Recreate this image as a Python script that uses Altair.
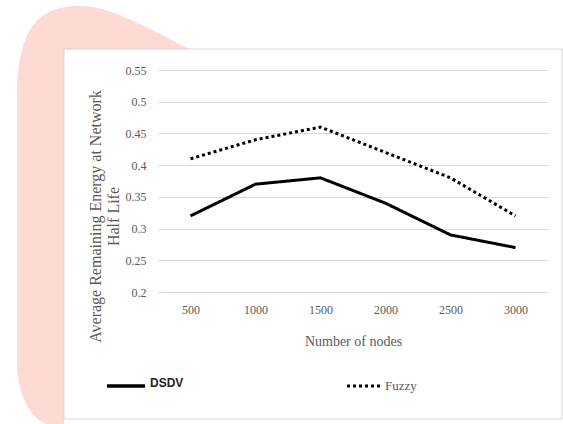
import altair as alt
import pandas as pd

# ---- data ----
nodes = ["500", "1000", "1500", "2000", "2500", "3000"]
dsdv = [0.32, 0.37, 0.38, 0.34, 0.29, 0.27]
fuzzy = [0.41, 0.44, 0.46, 0.42, 0.38, 0.32]
series_names = ["DSDV", "Fuzzy"]
y_ticks = [0.2, 0.25, 0.3, 0.35, 0.4, 0.45, 0.5, 0.55]
x_title = "Number of nodes"
y_title = ["Average Remaining Energy at Network", "Half Life"]

rows = []
for n, a, b in zip(nodes, dsdv, fuzzy):
    rows.append({"nodes": n, "series": series_names[0], "value": a})
    rows.append({"nodes": n, "series": series_names[1], "value": b})
df = pd.DataFrame(rows)

# layout (pixels)
PL, PT, W, H = 158, 70, 390, 222
SERIF = "Liberation Serif"
GRAY = "#595959"

# ---- decorative pink watermark (custom symbol path) ----
CX, CY, HS = 104.0, 214.0, 214.0
def P(x, y):
    return f"{(x - CX) / HS:.4f},{(y - CY) / HS:.4f}"
pink_path = ("M" + P(17, 100) + " C" + P(17, 25) + " " + P(40, 6) + " " + P(80, 6)
             + " C" + P(112, 6) + " " + P(150, 30) + " " + P(190, 49)
             + " L" + P(64, 49) + " L" + P(64, 424) + " L" + P(45, 424)
             + " C" + P(30, 416) + " " + P(17, 395) + " " + P(17, 360) + " Z")

one = pd.DataFrame({"k": [0]})
pink = alt.Chart(one).mark_point(
    shape=pink_path, filled=True, fill="#FDDAD3", strokeWidth=0, opacity=1,
    size=(2 * HS) ** 2
).encode(x=alt.value(CX - PL), y=alt.value(CY - PT))

box = alt.Chart(one).mark_rect(fillOpacity=0, stroke="#d6d6d6", strokeWidth=1).encode(
    x=alt.value(64 - PL), x2=alt.value(562 - PL),
    y=alt.value(49 - PT), y2=alt.value(419 - PT)
)

# ---- data lines ----
x_enc = alt.X("nodes:N", sort=nodes,
              scale=alt.Scale(type="point", padding=0.5),
              axis=alt.Axis(title=x_title, labelAngle=0, grid=False, domain=False,
                            ticks=False, tickSize=0, labelPadding=12,
                            labelFont=SERIF, labelFontSize=12, labelColor=GRAY,
                            titleFont=SERIF, titleFontSize=14, titleColor=GRAY,
                            titleFontWeight="normal", titleBaseline="middle",
                            titleY=49))
y_enc = alt.Y("value:Q",
              scale=alt.Scale(domain=[0.2, 0.55], nice=False, zero=False),
              axis=alt.Axis(values=y_ticks, format="~g", title=y_title,
                            grid=True, gridColor="#d9d9d9", gridWidth=1,
                            domain=False, ticks=False, tickSize=0, labelPadding=12,
                            labelFont=SERIF, labelFontSize=12, labelColor=GRAY,
                            titleFont=SERIF, titleFontSize=16, titleColor=GRAY,
                            titleFontWeight="normal", titleAngle=270,
                            titleAlign="center", titleBaseline="top",
                            titleLineHeight=18, titleX=-71, titleY=146))

lines = alt.Chart(df).mark_line(color="black", strokeWidth=3, strokeCap="butt").encode(
    x=x_enc, y=y_enc,
    strokeDash=alt.StrokeDash("series:N",
                              scale=alt.Scale(domain=series_names, range=[[1, 0], [3, 3]]),
                              legend=None),
    detail="series:N",
)

# ---- manual legend ----
leg = pd.DataFrame({"series": series_names})
leg_d = alt.Chart(leg).transform_filter(alt.datum.series == series_names[0])
leg_f = alt.Chart(leg).transform_filter(alt.datum.series == series_names[1])

leg1_line = leg_d.mark_rule(color="black", strokeWidth=3.5).encode(
    x=alt.value(107 - PL), x2=alt.value(145 - PL), y=alt.value(386 - PT))
leg1_text = leg_d.mark_text(align="left", baseline="middle", font="Liberation Sans",
                            fontWeight="bold", fontSize=12, color="#222222").encode(
    x=alt.value(150 - PL), y=alt.value(383 - PT), text="series:N")
leg2_line = leg_f.mark_rule(color="black", strokeWidth=3, strokeDash=[3, 3]).encode(
    x=alt.value(347 - PL), x2=alt.value(383 - PL), y=alt.value(386 - PT))
leg2_text = leg_f.mark_text(align="left", baseline="middle", font=SERIF,
                            fontSize=13, color=GRAY).encode(
    x=alt.value(385 - PL), y=alt.value(386 - PT), text="series:N")

chart = alt.layer(pink, box, lines, leg1_line, leg1_text, leg2_line, leg2_text).properties(
    width=W, height=H,
    autosize=alt.AutoSizeParams(type="none"),
    padding={"left": PL, "top": PT, "right": 563 - PL - W, "bottom": 424 - PT - H},
    background="white",
).configure_view(strokeWidth=0)

chart.save("out.html", embed_options={"renderer": "svg", "actions": False})
